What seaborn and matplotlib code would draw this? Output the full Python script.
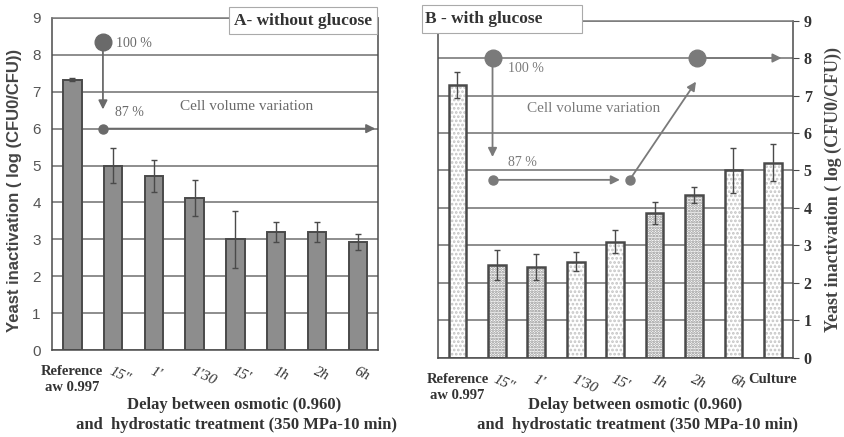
import numpy as np
import pandas as pd
import matplotlib
matplotlib.use("Agg")
import matplotlib.pyplot as plt
from matplotlib.patches import Rectangle
import seaborn as sns

# Delay categories and inactivation values (log CFU0/CFU)
cats_a = ["Reference\naw 0.997", '15"', "1'", "1'30", "15'", "1h", "2h", "6h"]
vals_a = [7.33, 5.00, 4.72, 4.12, 3.00, 3.20, 3.20, 2.93]
err_a = [0.04, 0.48, 0.43, 0.48, 0.77, 0.26, 0.26, 0.21]

cats_b = ["Reference\naw 0.997", '15"', "1'", "1'30", "15'", "1h", "2h", "6h", "Culture"]
vals_b = [7.28, 2.48, 2.43, 2.57, 3.10, 3.87, 4.35, 5.01, 5.21]
err_b = [0.35, 0.40, 0.35, 0.25, 0.30, 0.30, 0.22, 0.60, 0.50]
dense_b = [False, True, True, False, False, True, True, False, False]

ylabel = "Yeast inactivation ( log (CFU0/CFU))"
xlabel = "Delay between osmotic (0.960)\n and  hydrostatic treatment (350 MPa-10 min)"

sns.set_style("white")
plt.rcParams["font.family"] = ["Liberation Serif", "DejaVu Serif"]
plt.rcParams["hatch.linewidth"] = 1.3

GRID = "#7a7a7a"
EDGE = "#4a4a4a"
TXT = "#333333"
ANN = "#6a6a6a"

fig = plt.figure(figsize=(8.45, 4.37), dpi=100)
ax_a = fig.add_axes([0.0615, 0.199, 0.386, 0.760])
ax_b = fig.add_axes([0.518, 0.181, 0.420, 0.772])


def style_axis(ax, n, right=False):
    ax.set_ylim(0, 9)
    ax.set_xlim(-0.5, n - 0.5)
    ax.set_yticks(range(0, 10))
    ax.yaxis.grid(True, color=GRID, linewidth=1.2)
    ax.set_axisbelow(True)
    for s in ax.spines.values():
        s.set_color(EDGE)
        s.set_linewidth(1.1)
    ax.spines["top"].set_color(GRID)
    ax.tick_params(axis="x", which="major", length=0, pad=11)
    ax.set_xticks(np.arange(0.5, n - 1, 1), minor=True)
    ax.tick_params(axis="x", which="minor", length=4, color=EDGE, direction="out")
    ax.tick_params(axis="y", length=4, color=EDGE, direction="out", pad=4)
    if right:
        ax.yaxis.tick_right()
    for t in ax.get_xticklabels():
        txt = t.get_text()
        t.set_color(TXT)
        if txt.startswith("Reference") or txt == "Culture":
            t.set_fontweight("bold")
            t.set_fontsize(10.5)
            t.set_rotation(0)
            t.set_linespacing(1.3)
        else:
            t.set_fontstyle("italic")
            t.set_fontsize(11)
            t.set_rotation(-25)
            t.set_rotation_mode("anchor")
            t.set_ha("left")
            t.set_va("top")


def arrow(ax, start, end, color):
    ax.annotate("", xy=end, xytext=start,
                arrowprops=dict(arrowstyle="-|>", color=color, lw=1.3,
                                mutation_scale=13, shrinkA=0, shrinkB=0),
                zorder=6)


# ---- A: without glucose ----
df_a = pd.DataFrame({"delay": cats_a, "value": vals_a})
sns.barplot(data=df_a, x="delay", y="value", ax=ax_a, color="#8d8d8d",
            saturation=1, width=0.45, edgecolor=EDGE, linewidth=1.4, errorbar=None)
ax_a.errorbar(np.arange(len(vals_a)), vals_a, yerr=err_a, fmt="none",
              ecolor=EDGE, elinewidth=1.0, capsize=2.5, capthick=1.0)
style_axis(ax_a, len(cats_a))
ax_a.set_ylabel("")
ax_a.tick_params(axis="y", labelsize=11, labelcolor="#555555")
for t in ax_a.get_yticklabels():
    t.set_fontfamily("Liberation Sans")
ax_a.set_xlabel(xlabel, fontsize=12, fontweight="bold", color=TXT, linespacing=1.3)
ax_a.xaxis.set_label_coords(0.56, -0.142)
ax_a.xaxis.label.set_va("top")
fig.text(15 / 845, 1 - 190 / 437, ylabel, rotation=90, ha="center", va="center",
         fontsize=12, fontweight="bold", color="#444444", family="Liberation Sans")

ax_a.text(0.77, 0.992, "A- without glucose", transform=ax_a.transAxes,
          ha="center", va="center", fontsize=12.5, fontweight="bold", color=TXT,
          bbox=dict(boxstyle="square,pad=0.3", fc="white", ec="#aaaaaa", lw=0.8),
          zorder=10, clip_on=False)

# cell volume variation sketch
ax_a.plot(0.75, 8.34, "o", ms=12, color=ANN, zorder=6)
arrow(ax_a, (0.75, 8.2), (0.75, 6.52), ANN)
ax_a.plot(0.75, 6.0, "o", ms=6.5, color=ANN, zorder=6)
arrow(ax_a, (0.8, 6.0), (7.43, 6.0), ANN)
ax_a.text(1.08, 8.32, "100 %", fontsize=10, color=ANN, va="center")
ax_a.text(1.05, 6.45, "87 %", fontsize=10, color=ANN, va="center")
ax_a.text(2.64, 6.6, "Cell volume variation", fontsize=11, color=ANN, va="center")

# ---- B: with glucose ----
df_b = pd.DataFrame({"delay": cats_b, "value": vals_b})
sns.barplot(data=df_b, x="delay", y="value", ax=ax_b, color="white",
            saturation=1, width=0.45, edgecolor="#a0a0a0", linewidth=0, errorbar=None)
for patch, dense in zip(ax_b.patches, dense_b):
    patch.set_hatch("......" if dense else "....")
    patch.set_edgecolor("#8a8a8a" if dense else "#c4c4c4")
    patch.set_linewidth(0)
    ax_b.add_patch(Rectangle(patch.get_xy(), patch.get_width(), patch.get_height(),
                             fill=False, edgecolor=EDGE, linewidth=1.8, zorder=3))
ax_b.errorbar(np.arange(len(vals_b)), vals_b, yerr=err_b, fmt="none",
              ecolor=EDGE, elinewidth=1.0, capsize=2.5, capthick=1.0, zorder=4)
style_axis(ax_b, len(cats_b), right=True)
ax_b.set_ylabel("")
ax_b.tick_params(axis="y", labelsize=11.5, labelcolor=TXT)
for t in ax_b.get_yticklabels():
    t.set_fontweight("bold")
ax_b.set_xlabel(xlabel, fontsize=12, fontweight="bold", color=TXT, linespacing=1.3)
ax_b.xaxis.set_label_coords(0.557, -0.116)
ax_b.xaxis.label.set_va("top")
fig.text(833 / 845, 1 - 189 / 437, ylabel, rotation=90, ha="center", va="center",
         fontsize=13, fontweight="bold", color="#444444")

ax_b.add_patch(Rectangle((-0.045, 0.963), 0.451, 0.083, transform=ax_b.transAxes,
                         fc="white", ec="#aaaaaa", lw=0.8, zorder=9, clip_on=False))
ax_b.text(-0.037, 1.004, "B - with glucose", transform=ax_b.transAxes,
          ha="left", va="center", fontsize=12.5, fontweight="bold", color=TXT,
          zorder=10, clip_on=False)

ANN_B = "#7a7a7a"
ax_b.plot(0.89, 8.0, "o", ms=12, color=ANN_B, zorder=6)
arrow(ax_b, (0.89, 7.85), (0.89, 5.36), ANN_B)
ax_b.plot(0.89, 4.75, "o", ms=6.5, color=ANN_B, zorder=6)
arrow(ax_b, (0.95, 4.75), (4.12, 4.75), ANN_B)
ax_b.plot(4.37, 4.75, "o", ms=6.5, color=ANN_B, zorder=6)
arrow(ax_b, (4.4, 4.8), (6.05, 7.37), ANN_B)
ax_b.plot(6.07, 8.0, "o", ms=12, color=ANN_B, zorder=6)
arrow(ax_b, (6.2, 8.0), (8.22, 8.0), ANN_B)
ax_b.text(1.28, 7.73, "100 %", fontsize=10, color=ANN_B, va="center")
ax_b.text(1.28, 5.2, "87 %", fontsize=10, color=ANN_B, va="center")
ax_b.text(1.76, 6.66, "Cell volume variation", fontsize=11, color=ANN_B, va="center")

fig.savefig("out.png", dpi=100, facecolor="white")
